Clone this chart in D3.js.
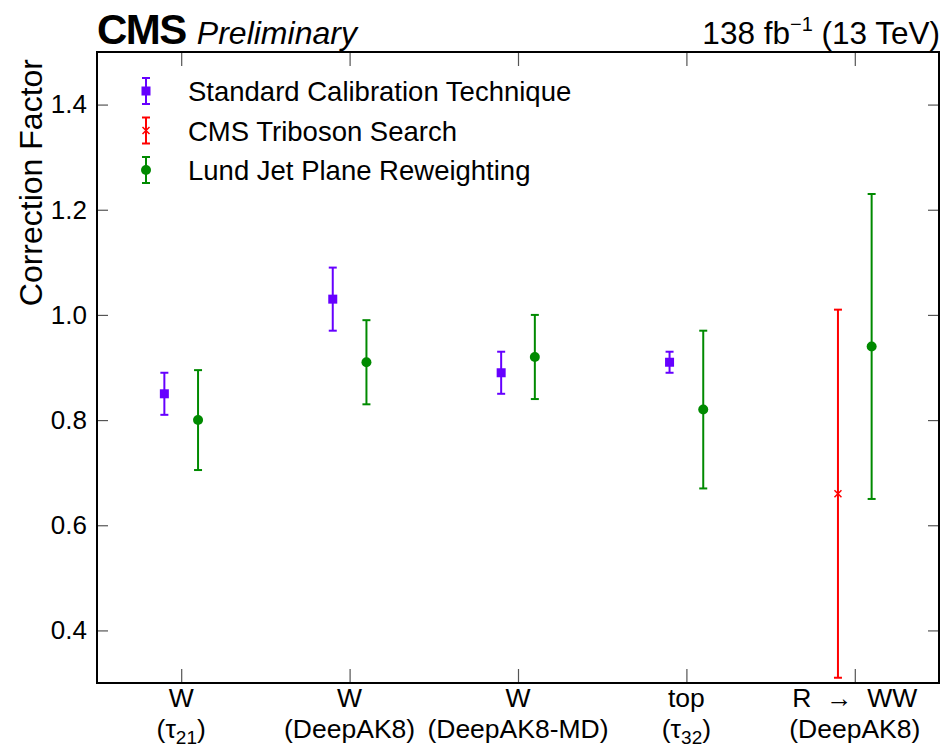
<!DOCTYPE html>
<html>
<head>
<meta charset="utf-8">
<script src="https://cdn.jsdelivr.net/npm/d3@7"></script>
<style>
  html, body { margin: 0; padding: 0; background: #fff; }
  svg { display: block; font-family: "Liberation Sans", Arial, Helvetica, sans-serif; }
</style>
</head>
<body>
<svg id="chart" width="947" height="748"></svg>
<script>
// Tagger categories (two-line labels, with optional subscripts)
const categories = ["W (τ21)", "W (DeepAK8)", "W (DeepAK8-MD)", "top (τ32)", "R → WW (DeepAK8)"];
const labelLine1 = ["W", "W", "W", "top", "R  →  WW"];
const labelLine2 = [
  [["(τ", false], ["21", true], [")", false]],
  [["(DeepAK8)", false]],
  [["(DeepAK8-MD)", false]],
  [["(τ", false], ["32", true], [")", false]],
  [["(DeepAK8)", false]]
];

// Correction factors and uncertainties per method (null where not measured)
const standardValues = [0.85, 1.03, 0.89, 0.91, null];
const standardErrors = [0.04, 0.06, 0.04, 0.02, null];
const tribosonValues = [null, null, null, null, 0.66];
const tribosonErrors = [null, null, null, null, 0.35];
const lundValues = [0.80, 0.91, 0.92, 0.82, 0.94];
const lundErrors = [0.095, 0.08, 0.08, 0.15, 0.29];

const yTicks = [0.4, 0.6, 0.8, 1.0, 1.2, 1.4];

const series = [
  { name: "Standard Calibration Technique", values: standardValues, errors: standardErrors, color: "#6600ff", marker: "square", offset: -0.1 },
  { name: "CMS Triboson Search", values: tribosonValues, errors: tribosonErrors, color: "#ff0000", marker: "cross", offset: -0.1 },
  { name: "Lund Jet Plane Reweighting", values: lundValues, errors: lundErrors, color: "#008a00", marker: "circle", offset: 0.1 }
];

const svg = d3.select("#chart");
const margin = { left: 97, right: 8, top: 52, bottom: 65 };
const W = 947, H = 748;
const plotW = W - margin.left - margin.right;
const plotH = H - margin.top - margin.bottom;

const x = d3.scaleLinear().domain([-0.5, categories.length - 0.5]).range([margin.left, margin.left + plotW]);
const y = d3.scaleLinear().domain([0.3, 1.5]).range([margin.top + plotH, margin.top]);

const g = svg.append("g");

// Axes: ticks point inward, on all four sides
const idx = d3.range(categories.length);
const leftAxis = d3.axisLeft(y).tickValues(yTicks).tickSizeInner(-11).tickSizeOuter(0).tickPadding(10).tickFormat(d3.format(".1f"));
const rightAxis = d3.axisRight(y).tickValues(yTicks).tickSizeInner(-11).tickSizeOuter(0).tickFormat("");
const bottomAxis = d3.axisBottom(x).tickValues(idx).tickSizeInner(-14).tickSizeOuter(0).tickFormat("");
const topAxis = d3.axisTop(x).tickValues(idx).tickSizeInner(-14).tickSizeOuter(0).tickFormat("");

function styleAxis(sel) {
  sel.select(".domain").remove();
  sel.selectAll(".tick line").attr("stroke", "#555").attr("stroke-width", 1.2);
  sel.selectAll(".tick text").attr("fill", "#000").style("font-size", "26px").style("font-family", "Liberation Sans, Arial, sans-serif");
}

g.append("g").attr("transform", `translate(${margin.left},0)`).call(leftAxis).call(styleAxis);
g.append("g").attr("transform", `translate(${margin.left + plotW},0)`).call(rightAxis).call(styleAxis);
g.append("g").attr("transform", `translate(0,${margin.top + plotH})`).call(bottomAxis).call(styleAxis);
g.append("g").attr("transform", `translate(0,${margin.top})`).call(topAxis).call(styleAxis);

// Frame
g.append("rect")
  .attr("x", margin.left).attr("y", margin.top)
  .attr("width", plotW).attr("height", plotH)
  .attr("fill", "none").attr("stroke", "#000").attr("stroke-width", 2);

// Category labels (two lines)
const xl = g.append("g").attr("font-size", 26.5).attr("text-anchor", "middle").attr("fill", "#000");
idx.forEach(i => {
  xl.append("text").attr("x", x(i)).attr("y", margin.top + plotH + 24).attr("xml:space", "preserve").text(labelLine1[i]);
  const t = xl.append("text").attr("x", x(i)).attr("y", margin.top + plotH + 55);
  labelLine2[i].forEach(([s, sub]) => {
    const ts = t.append("tspan").text(s);
    if (sub) ts.attr("dy", 6).attr("font-size", 19);
    else if (t.selectAll("tspan").size() > 1) ts.attr("dy", -6);
  });
});

// Y axis title, aligned to the top end of the axis
g.append("text")
  .attr("transform", `translate(42,${margin.top + 7}) rotate(-90)`)
  .attr("text-anchor", "end")
  .attr("font-size", 32)
  .attr("fill", "#000")
  .text("Correction Factor");

// Marker drawing helper
function drawMarker(sel, cx, cy, s) {
  if (s.marker === "square") {
    sel.append("rect").attr("x", cx - 4.5).attr("y", cy - 4.5).attr("width", 9).attr("height", 9).attr("fill", s.color);
  } else if (s.marker === "circle") {
    sel.append("circle").attr("cx", cx).attr("cy", cy).attr("r", 5).attr("fill", s.color);
  } else {
    const r = 3.5;
    sel.append("path")
      .attr("d", `M${cx - r},${cy - r}L${cx + r},${cy + r}M${cx - r},${cy + r}L${cx + r},${cy - r}`)
      .attr("stroke", s.color).attr("stroke-width", 1.5).attr("fill", "none");
  }
}

function drawErrorBar(sel, cx, yTop, yBot, color) {
  sel.append("line").attr("x1", cx).attr("x2", cx).attr("y1", yTop).attr("y2", yBot).attr("stroke", color).attr("stroke-width", 2);
  [yTop, yBot].forEach(yy => sel.append("line").attr("x1", cx - 4).attr("x2", cx + 4).attr("y1", yy).attr("y2", yy).attr("stroke", color).attr("stroke-width", 2));
}

// Data points with error bars
series.forEach(s => {
  const sg = g.append("g");
  s.values.forEach((v, i) => {
    if (v === null) return;
    const cx = x(i + s.offset);
    drawErrorBar(sg, cx, y(v + s.errors[i]), y(v - s.errors[i]), s.color);
    drawMarker(sg, cx, y(v), s);
  });
});

// Legend
const lg = g.append("g");
series.forEach((s, k) => {
  const cy = 91 + k * 39.5;
  const cx = 146;
  drawErrorBar(lg, cx, cy - 13, cy + 13, s.color);
  drawMarker(lg, cx, cy, s);
  lg.append("text").attr("x", 188).attr("y", cy + 10).attr("font-size", 27.5).attr("fill", "#000").text(s.name);
});

// Header
const hdr = svg.append("text").attr("x", 97).attr("y", 44).attr("fill", "#000");
hdr.append("tspan").attr("font-weight", "bold").attr("font-size", 42).attr("letter-spacing", -1.5).text("CMS");
hdr.append("tspan").attr("font-style", "italic").attr("font-size", 32).attr("dx", 11).text("Preliminary");

const lumi = svg.append("text").attr("x", 940).attr("y", 44).attr("text-anchor", "end").attr("font-size", 31.5).attr("fill", "#000");
lumi.append("tspan").text("138 fb");
lumi.append("tspan").attr("dy", -13).attr("font-size", 20).text("−1");
lumi.append("tspan").attr("dy", 13).text(" (13 TeV)");
</script>
</body>
</html>
